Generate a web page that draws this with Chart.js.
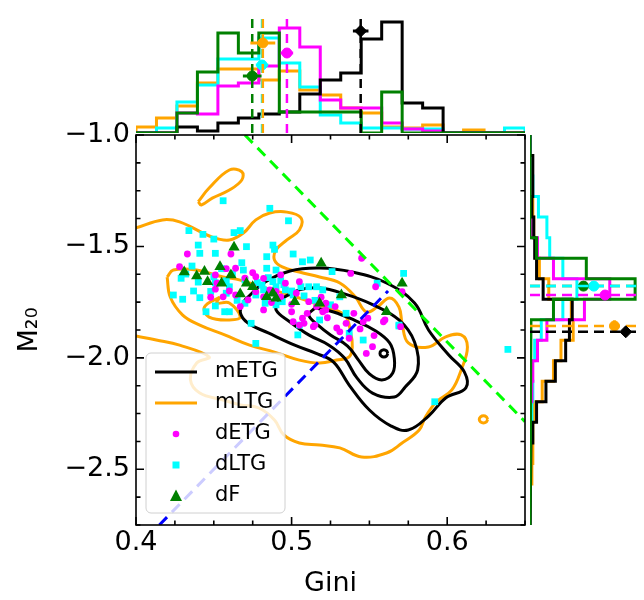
<!DOCTYPE html>
<html lang="en">
<head>
  <meta charset="UTF-8" />
  <title>Gini – M20</title>
  <script src="https://cdn.jsdelivr.net/npm/chart.js"></script>
  <style>
    body { margin: 0; background: #fff; }
    #wrap { position: relative; width: 644px; height: 600px; }
    #wrap canvas { position: absolute; left: 0; top: 0; }
  </style>
</head>
<body>
  <div id="wrap">
    <canvas id="topHist" width="644" height="140"></canvas>
    <canvas id="rightHist" width="644" height="600"></canvas>
    <canvas id="main" width="644" height="600"></canvas>
  </div>

  <script>
    const FONT = 'DejaVu Sans';

    // groups: colours and labels
    const groups = ['mETG', 'mLTG', 'dETG', 'dLTG', 'dF'];
    const groupColors = ['#000000', '#FFA500', '#FF00FF', '#00FFFF', '#008000'];

    // histogram bins (19 equal bins over each axis range)
    const giniMin = 0.4, giniMax = 0.65;
    const m20Min = -2.75, m20Max = -1.0;
    const nBins = 19;

    // top histogram (Gini), bins left -> right
    const giniHist_mETG = [0, 0, 6, 2, 10, 15, 19, 21, 39, 53, 60, 94, 111, 30, 25, 0, 0, 0, 0];
    const giniHist_mLTG = [6, 15, 27, 50, 64, 64, 53, 62, 43, 38, 25, 20, 6, 5, 8, 0, 3, 0, 0];
    const giniHist_dETG = [0, 0, 20, 19, 47, 50, 67, 105, 86, 33, 25, 25, 10, 4, 2, 0, 0, 0, 0];
    const giniHist_dLTG = [0, 5, 31, 48, 74, 74, 95, 70, 46, 18, 10, 5, 5, 4, 4, 0, 0, 0, 5];
    const giniHist_dF   = [0, 0, 20, 61, 100, 80, 100, 21, 21, 21, 21, 0, 41, 0, 0, 0, 0, 0, 0];

    // right histogram (M20), bins top (-1.0) -> bottom (-2.75)
    const m20Hist_mETG = [0, 3, 3, 2, 4, 5, 7, 14, 45, 42, 38, 27, 17, 7, 3, 1, 0, 0, 0];
    const m20Hist_mLTG = [0, 0, 1, 3, 4, 6, 10, 20, 44, 46, 33, 25, 13, 4, 3, 3, 2, 0, 0];
    const m20Hist_dETG = [0, 0, 0, 0, 2, 8, 25, 85, 58, 18, 8, 3, 2, 0, 0, 0, 0, 0, 0];
    const m20Hist_dLTG = [0, 1, 3, 9, 18, 21, 35, 50, 35, 12, 5, 2, 3, 2, 0, 0, 0, 0, 0];
    const m20Hist_dF   = [0, 0, 0, 0, 0, 7, 60, 112, 25, 1, 0, 0, 0, 0, 0, 0, 0, 0, 0];

    // medians with errors, and the level at which the marker sits in the side panels
    const meanGini = [0.5444, 0.4815, 0.497, 0.481, 0.4747];
    const errGini  = [0.005, 0.008, 0.004, 0.004, 0.006];
    const meanM20  = [-1.883, -1.857, -1.718, -1.678, -1.678];
    const errM20   = [0.02, 0.025, 0.015, 0.015, 0.015];
    const markerLevel = [102, 90, 80, 68, 57];

    // scatter samples [Gini, M20]
    const dETG = [
      [0.433, -1.534], [0.428, -1.591], [0.461, -1.534], [0.464, -1.598], [0.451, -1.628],
      [0.452, -1.665], [0.475, -1.618], [0.477, -1.636], [0.482, -1.643], [0.493, -1.628],
      [0.496, -1.665], [0.505, -1.658], [0.451, -1.692], [0.448, -1.728], [0.456, -1.726],
      [0.464, -1.718], [0.475, -1.681], [0.477, -1.703], [0.486, -1.695], [0.482, -1.726],
      [0.493, -1.726], [0.503, -1.710], [0.511, -1.748], [0.516, -1.770], [0.500, -1.793],
      [0.507, -1.822], [0.482, -1.785], [0.467, -1.770], [0.472, -1.740], [0.522, -1.785],
      [0.505, -1.853], [0.514, -1.860], [0.545, -1.553], [0.538, -1.621], [0.554, -1.681],
      [0.571, -1.703], [0.549, -1.822], [0.560, -1.830], [0.522, -1.755], [0.528, -1.770],
      [0.520, -1.793], [0.535, -1.845], [0.529, -1.866], [0.531, -1.883], [0.548, -1.980],
      [0.552, -1.950], [0.537, -1.912], [0.546, -1.838], [0.570, -1.860], [0.559, -1.838],
      [0.501, -1.838], [0.508, -1.845], [0.515, -1.853], [0.458, -1.600], [0.470, -1.642],
      [0.490, -1.702], [0.500, -1.760], [0.510, -1.800], [0.523, -1.820], [0.519, -1.728],
      [0.487, -1.752], [0.460, -1.700], [0.540, -1.800], [0.544, -1.870], [0.553, -1.900]
    ];
    const dLTG = [
      [0.456, -1.295], [0.486, -1.329], [0.498, -1.385], [0.434, -1.429], [0.443, -1.446],
      [0.450, -1.467], [0.463, -1.438], [0.467, -1.429], [0.440, -1.494], [0.441, -1.531],
      [0.451, -1.531], [0.471, -1.501], [0.488, -1.494], [0.489, -1.513], [0.484, -1.546],
      [0.501, -1.534], [0.507, -1.569], [0.512, -1.561], [0.436, -1.588], [0.468, -1.573],
      [0.469, -1.606], [0.484, -1.598], [0.490, -1.606], [0.429, -1.643], [0.432, -1.624],
      [0.450, -1.636], [0.451, -1.663], [0.458, -1.654], [0.481, -1.673], [0.488, -1.658],
      [0.493, -1.654], [0.424, -1.718], [0.430, -1.737], [0.441, -1.730], [0.458, -1.710],
      [0.460, -1.681], [0.470, -1.755], [0.477, -1.718], [0.482, -1.695], [0.490, -1.681],
      [0.496, -1.695], [0.501, -1.718], [0.506, -1.681], [0.511, -1.681], [0.516, -1.681],
      [0.520, -1.695], [0.445, -1.793], [0.451, -1.767], [0.457, -1.793], [0.460, -1.793],
      [0.474, -1.845], [0.483, -1.755], [0.494, -1.748], [0.518, -1.830], [0.526, -1.613],
      [0.555, -1.665], [0.572, -1.621], [0.569, -1.853], [0.531, -1.726], [0.537, -1.890],
      [0.546, -1.920], [0.569, -1.857], [0.592, -2.197], [0.639, -1.962], [0.477, -1.935],
      [0.504, -1.897], [0.505, -1.853], [0.455, -1.600], [0.462, -1.622], [0.470, -1.650],
      [0.478, -1.662], [0.485, -1.640], [0.495, -1.672], [0.500, -1.700], [0.508, -1.722],
      [0.515, -1.742], [0.440, -1.660], [0.437, -1.700], [0.448, -1.702], [0.465, -1.742],
      [0.525, -1.762], [0.535, -1.800], [0.490, -1.762]
    ];
    const dF = [
      [0.463, -1.504], [0.454, -1.591], [0.444, -1.613], [0.439, -1.633], [0.446, -1.658],
      [0.461, -1.628], [0.455, -1.665], [0.471, -1.665], [0.475, -1.681], [0.467, -1.713],
      [0.484, -1.726], [0.488, -1.710], [0.490, -1.733], [0.502, -1.748], [0.518, -1.755],
      [0.519, -1.576], [0.532, -1.718], [0.561, -1.793], [0.571, -1.665], [0.431, -1.615]
    ];

    // density contours of the model samples [Gini, M20]
    const mETG_contours = [
      [[0.470, -1.740], [0.483, -1.660], [0.499, -1.610], [0.518, -1.597], [0.539, -1.615],
       [0.561, -1.664], [0.579, -1.754], [0.588, -1.875], [0.601, -1.987], [0.611, -2.063],
       [0.612, -2.135], [0.599, -2.180], [0.588, -2.261], [0.575, -2.324], [0.564, -2.306],
       [0.550, -2.234], [0.537, -2.122], [0.527, -2.019], [0.517, -1.983], [0.502, -1.943],
       [0.485, -1.888], [0.472, -1.844], [0.467, -1.794]],
      [[0.492, -1.740], [0.505, -1.695], [0.518, -1.687], [0.534, -1.713], [0.551, -1.758],
       [0.569, -1.830], [0.579, -1.929], [0.581, -2.054], [0.573, -2.131], [0.566, -2.176],
       [0.552, -2.158], [0.542, -2.090], [0.534, -2.001], [0.524, -1.943], [0.511, -1.897],
       [0.499, -1.839], [0.490, -1.785]],
      [[0.515, -1.776], [0.527, -1.794], [0.540, -1.830], [0.553, -1.875], [0.563, -1.933],
       [0.566, -2.001], [0.565, -2.068], [0.558, -2.099], [0.550, -2.072], [0.543, -2.010],
       [0.536, -1.947], [0.525, -1.897], [0.517, -1.853], [0.511, -1.808]],
      [[0.5618, -1.980], [0.5611, -1.969], [0.5593, -1.964], [0.5575, -1.969], [0.5568, -1.980],
       [0.5575, -1.991], [0.5593, -1.996], [0.5611, -1.991]]
    ];
    const mLTG_contours = [
      [[0.440, -1.299], [0.447, -1.238], [0.460, -1.157], [0.468, -1.165], [0.468, -1.202],
       [0.460, -1.247], [0.449, -1.283], [0.442, -1.314]],
      [[0.454, -1.727], [0.452, -1.754], [0.460, -1.754], [0.467, -1.817], [0.460, -1.830],
       [0.447, -1.817], [0.444, -1.772]],
      [[0.420, -1.637], [0.424, -1.606], [0.439, -1.606], [0.456, -1.637], [0.467, -1.651],
       [0.481, -1.682], [0.499, -1.718], [0.518, -1.763], [0.534, -1.808], [0.538, -1.888],
       [0.539, -1.951], [0.537, -1.996], [0.529, -2.010], [0.518, -2.023], [0.505, -2.010],
       [0.489, -1.974], [0.473, -1.943], [0.457, -1.897], [0.441, -1.853], [0.430, -1.808],
       [0.422, -1.727]],
      [[0.6260, -2.276], [0.6252, -2.265], [0.6233, -2.260], [0.6214, -2.265], [0.6206, -2.276],
       [0.6214, -2.287], [0.6233, -2.292], [0.6252, -2.287]]
    ];
    // outer mLTG level leaves the panel at the left edge, so it stays open
    const mLTG_outer = [
      [0.400, -1.417], [0.417, -1.381], [0.428, -1.390], [0.449, -1.458], [0.460, -1.471],
      [0.469, -1.440], [0.477, -1.381], [0.486, -1.350], [0.497, -1.346], [0.506, -1.372],
      [0.505, -1.426], [0.497, -1.471], [0.490, -1.516], [0.489, -1.561], [0.494, -1.592],
      [0.505, -1.615], [0.518, -1.637], [0.531, -1.664], [0.541, -1.727], [0.548, -1.794],
      [0.555, -1.772], [0.563, -1.731], [0.569, -1.772], [0.571, -1.844], [0.575, -1.933],
      [0.588, -1.951], [0.599, -1.906], [0.609, -1.897], [0.613, -1.951], [0.609, -2.054],
      [0.603, -2.144], [0.593, -2.198], [0.586, -2.265], [0.582, -2.324], [0.571, -2.382],
      [0.561, -2.427], [0.545, -2.445], [0.531, -2.404], [0.518, -2.391], [0.505, -2.382],
      [0.495, -2.346], [0.489, -2.279], [0.479, -2.225], [0.467, -2.211], [0.456, -2.189],
      [0.441, -2.158], [0.435, -2.099], [0.439, -2.023], [0.447, -1.996], [0.428, -1.943],
      [0.413, -1.920], [0.400, -1.902]
    ];

    // classification lines
    const mergerLine = [[0.470, -1.0], [0.65, -2.286]];
    const etgLtgLine = [[0.415, -2.75], [0.562, -1.70]];

    // ---------- helpers ----------
    const giniEdges = Array.from({ length: nBins + 1 }, (_, i) => giniMin + i * (giniMax - giniMin) / nBins);
    const m20Edges = Array.from({ length: nBins + 1 }, (_, i) => m20Max - i * (m20Max - m20Min) / nBins);
    const xy = arr => arr.map(([g, m]) => ({ x: g, y: m }));

    function stepLine(edges, counts, horizontal) {
      const P = (e, c) => horizontal ? { x: c, y: e } : { x: e, y: c };
      const pts = [P(edges[0], 0)];
      counts.forEach((c, i) => { pts.push(P(edges[i], c)); pts.push(P(edges[i + 1], c)); });
      pts.push(P(edges[edges.length - 1], 0));
      return pts;
    }

    function lineSet(data, color, width, order, extra) {
      return Object.assign({
        data: data, showLine: true, borderColor: color, borderWidth: width,
        pointRadius: 0, fill: false, order: order, borderJoinStyle: 'miter'
      }, extra || {});
    }

    const histOrder = [2, 5, 3, 4, 1];
    const markerStyle = ['rectRot', 'circle', 'circle', 'circle', 'circle'];
    const markerSize = [6, 5, 5, 5, 5];

    // ---------- top histogram ----------
    const giniHists = [giniHist_mETG, giniHist_mLTG, giniHist_dETG, giniHist_dLTG, giniHist_dF];
    const topSets = [];
    groups.forEach((g, i) => {
      topSets.push(lineSet(stepLine(giniEdges, giniHists[i], false), groupColors[i], 3, histOrder[i]));
      topSets.push(lineSet([{ x: meanGini[i], y: 0 }, { x: meanGini[i], y: 116 }], groupColors[i], 2.5, 0,
        { borderDash: [9, 6] }));
      topSets.push(lineSet([{ x: meanGini[i] - errGini[i], y: markerLevel[i] }, { x: meanGini[i] + errGini[i], y: markerLevel[i] }],
        groupColors[i], 3, 0));
      topSets.push({ data: [{ x: meanGini[i], y: markerLevel[i] }], pointStyle: markerStyle[i], pointRadius: markerSize[i],
        backgroundColor: groupColors[i], borderColor: groupColors[i], order: 0 });
    });

    new Chart(document.getElementById('topHist'), {
      type: 'scatter',
      data: { datasets: topSets },
      options: {
        responsive: false, animation: false, events: [],
        layout: { padding: { left: 136, right: 119, top: 17, bottom: 7 } },
        plugins: { legend: { display: false }, tooltip: { enabled: false } },
        scales: {
          x: { type: 'linear', min: giniMin, max: giniMax, display: false },
          y: { type: 'linear', min: 0, max: 116, display: false }
        }
      }
    });

    // ---------- right histogram ----------
    const m20Hists = [m20Hist_mETG, m20Hist_mLTG, m20Hist_dETG, m20Hist_dLTG, m20Hist_dF];
    const rightSets = [];
    groups.forEach((g, i) => {
      rightSets.push(lineSet(stepLine(m20Edges, m20Hists[i], true), groupColors[i], 3, histOrder[i]));
      rightSets.push(lineSet([{ x: 0, y: meanM20[i] }, { x: 114, y: meanM20[i] }], groupColors[i], 2.5, 0,
        { borderDash: [10, 6] }));
      rightSets.push(lineSet([{ x: markerLevel[i], y: meanM20[i] - errM20[i] }, { x: markerLevel[i], y: meanM20[i] + errM20[i] }],
        groupColors[i], 3, 0));
      rightSets.push({ data: [{ x: markerLevel[i], y: meanM20[i] }], pointStyle: markerStyle[i], pointRadius: markerSize[i],
        backgroundColor: groupColors[i], borderColor: groupColors[i], order: 0 });
    });

    new Chart(document.getElementById('rightHist'), {
      type: 'scatter',
      data: { datasets: rightSets },
      options: {
        responsive: false, animation: false, events: [],
        layout: { padding: { left: 530, right: 0, top: 135, bottom: 75 } },
        plugins: { legend: { display: false }, tooltip: { enabled: false } },
        scales: {
          x: { type: 'linear', min: 0, max: 114, display: false },
          y: { type: 'linear', min: m20Min, max: m20Max, display: false }
        }
      }
    });

    // ---------- main panel ----------
    const giniTicks = [];
    for (let v = 0.4; v <= 0.65 + 1e-9; v += 0.025) giniTicks.push(+v.toFixed(3));
    const m20Ticks = [];
    for (let v = -1.0; v >= -2.75 - 1e-9; v -= 0.125) m20Ticks.push(+v.toFixed(3));
    const isMajor = (v, step) => Math.abs(v / step - Math.round(v / step)) < 1e-6;

    const mainSets = [];
    mainSets.push(lineSet(xy(mergerLine), '#00FF00', 3, 0, { borderDash: [11, 7] }));
    mainSets.push(lineSet(xy(etgLtgLine), '#0000FF', 3, 0, { borderDash: [11, 7] }));
    mainSets.push({ label: 'dF', data: xy(dF), pointStyle: 'triangle', pointRadius: 6.5,
      backgroundColor: '#008000', borderColor: '#008000', borderWidth: 0, order: 1 });
    mainSets.push({ label: 'dETG', data: xy(dETG), pointStyle: 'circle', pointRadius: 3.4,
      backgroundColor: '#FF00FF', borderColor: '#FF00FF', borderWidth: 0, order: 2 });
    mainSets.push({ label: 'dLTG', data: xy(dLTG), pointStyle: 'rect', pointRadius: 4.8,
      backgroundColor: '#00FFFF', borderColor: '#00FFFF', borderWidth: 0, order: 3 });
    mETG_contours.forEach(c => mainSets.push(lineSet(xy(c.concat([c[0]])), '#000000', 3, 10, { tension: 0.4 })));
    mLTG_contours.forEach(c => mainSets.push(lineSet(xy(c.concat([c[0]])), '#FFA500', 3, 11, { tension: 0.4 })));
    mainSets.push(lineSet(xy(mLTG_outer), '#FFA500', 3, 11, { tension: 0.4 }));

    const framePlugin = {
      id: 'frame',
      afterDraw(chart) {
        const { ctx, chartArea: a, scales: { x, y } } = chart;
        ctx.save();
        ctx.strokeStyle = '#000';
        ctx.lineWidth = 1.6;
        ctx.strokeRect(a.left, a.top, a.right - a.left, a.bottom - a.top);
        ctx.beginPath();
        x.ticks.forEach(t => {
          const px = x.getPixelForValue(t.value);
          const len = isMajor(t.value, 0.1) ? 8 : 4.5;
          ctx.moveTo(px, a.bottom); ctx.lineTo(px, a.bottom - len);
          ctx.moveTo(px, a.top); ctx.lineTo(px, a.top + len);
        });
        y.ticks.forEach(t => {
          const py = y.getPixelForValue(t.value);
          const len = isMajor(t.value, 0.5) ? 8 : 4.5;
          ctx.moveTo(a.left, py); ctx.lineTo(a.left + len, py);
          ctx.moveTo(a.right, py); ctx.lineTo(a.right - len, py);
        });
        ctx.stroke();

        // legend box
        const bx = 146, by = 353, bw = 139, bh = 160;
        ctx.beginPath();
        ctx.roundRect(bx, by, bw, bh, 5);
        ctx.fillStyle = 'rgba(255,255,255,0.8)';
        ctx.fill();
        ctx.strokeStyle = '#d0d0d0';
        ctx.lineWidth = 1;
        ctx.stroke();

        const rows = [372, 403, 434, 465, 496];
        ctx.font = '21px "' + FONT + '"';
        ctx.textBaseline = 'middle';
        ctx.textAlign = 'left';
        groups.forEach((g, i) => {
          const ry = rows[i];
          ctx.fillStyle = groupColors[i];
          ctx.strokeStyle = groupColors[i];
          if (i < 2) {
            ctx.lineWidth = 3;
            ctx.beginPath(); ctx.moveTo(155, ry); ctx.lineTo(197, ry); ctx.stroke();
          } else if (i === 2) {
            ctx.beginPath(); ctx.arc(176, ry, 3.3, 0, Math.PI * 2); ctx.fill();
          } else if (i === 3) {
            ctx.fillRect(172.5, ry - 3.5, 7, 7);
          } else {
            ctx.beginPath();
            ctx.moveTo(176, ry - 6.5); ctx.lineTo(182, ry + 5); ctx.lineTo(170, ry + 5);
            ctx.closePath(); ctx.fill();
          }
          ctx.fillStyle = '#000';
          ctx.fillText(g, 215, ry);
        });
        ctx.restore();
      }
    };

    new Chart(document.getElementById('main'), {
      type: 'scatter',
      data: { datasets: mainSets },
      options: {
        responsive: false, animation: false, events: [],
        layout: { padding: { left: 0, right: 119, top: 135, bottom: 0 } },
        plugins: { legend: { display: false }, tooltip: { enabled: false } },
        scales: {
          x: {
            type: 'linear', min: giniMin, max: giniMax,
            afterBuildTicks: s => { s.ticks = giniTicks.map(v => ({ value: v })); },
            afterFit: s => { s.height = 75; },
            grid: { display: false, drawTicks: false },
            border: { display: false },
            ticks: {
              color: '#000', font: { family: FONT, size: 27 }, padding: 2,
              autoSkip: false, maxRotation: 0,
              callback: v => isMajor(v, 0.1) ? v.toFixed(1) : ''
            },
            title: { display: true, text: 'Gini', color: '#000', font: { family: FONT, size: 27 },
              padding: { top: 0, bottom: 0 } }
          },
          y: {
            type: 'linear', min: m20Min, max: m20Max,
            afterBuildTicks: s => { s.ticks = m20Ticks.map(v => ({ value: v })); },
            afterFit: s => { s.width = 136; },
            grid: { display: false, drawTicks: false },
            border: { display: false },
            ticks: {
              color: '#000', font: { family: FONT, size: 27 }, padding: 6, autoSkip: false,
              callback: v => isMajor(v, 0.5) ? '\u2212' + Math.abs(v).toFixed(1) : ''
            },
            title: { display: true, text: 'M₂₀', color: '#000', font: { family: FONT, size: 27 },
              padding: { top: 14, bottom: 0 } }
          }
        }
      },
      plugins: [framePlugin]
    });
  </script>
</body>
</html>
